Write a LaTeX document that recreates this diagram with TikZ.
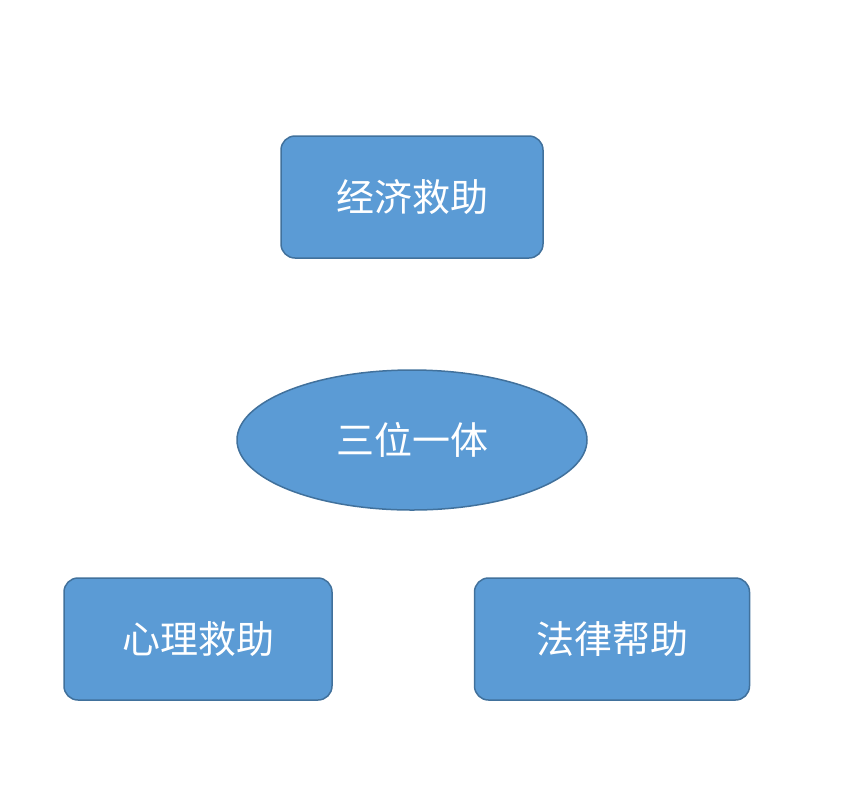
\documentclass[tikz,border=0pt]{standalone}
\usepackage{fontspec}
\newfontfamily\cjk{Noto Sans CJK SC}
\usetikzlibrary{arrows.meta,shapes.geometric}
\definecolor{fillb}{HTML}{5B9BD5}
\definecolor{lineb}{HTML}{41719C}
\begin{document}
\begin{tikzpicture}[x=1pt,y=-1pt,
  box/.style={draw=lineb,line width=1.5pt,fill=fillb,rounded corners=14pt,text=white,font=\cjk\fontsize{38}{44}\selectfont,inner sep=0pt},
  blockarrow/.style={draw=none,line width=25pt,fillb,-{Triangle[width=58pt,length=26pt]}}]
\useasboundingbox (0,0) rectangle (845,804);
\node[box,minimum width=262pt,minimum height=122pt] (top) at (412,197) {经济救助};
\node[box,ellipse,rounded corners=0pt,minimum width=350pt,minimum height=140pt] (mid) at (412,440) {三位一体};
\node[box,minimum width=268pt,minimum height=122pt] (left) at (198,639) {心理救助};
\node[box,minimum width=275pt,minimum height=122pt] (right) at (612,639) {法律帮助};
\coordinate (ua) at (412,350); \coordinate (ub) at (412,275);
\coordinate (la) at (268,503); \coordinate (lb) at (222,562);
\coordinate (ra) at (543,503); \coordinate (rb) at (592,562);
\draw[blockarrow] (ua) -- (ub);
\draw[blockarrow] (la) -- (lb);
\draw[blockarrow] (ra) -- (rb);
\end{tikzpicture}
\end{document}
